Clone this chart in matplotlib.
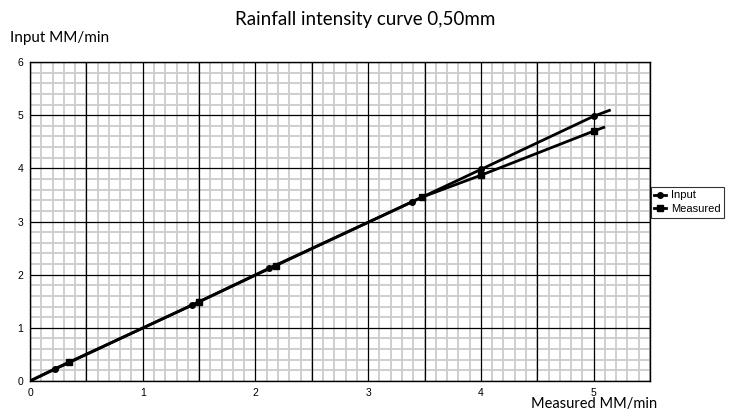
import matplotlib.pyplot as plt
from matplotlib.ticker import MultipleLocator

# data (first/last points are the ends of the drawn line)
input_x = [0.0, 0.22, 1.44, 2.12, 3.39, 4.0, 5.0, 5.14]
input_y = [0.0, 0.23, 1.43, 2.12, 3.37, 3.98, 4.98, 5.09]
measured_x = [0.0, 0.35, 1.50, 2.18, 3.48, 4.0, 5.0, 5.09]
measured_y = [0.0, 0.35, 1.49, 2.17, 3.46, 3.87, 4.70, 4.77]

fig = plt.figure(figsize=(7.38, 4.12), dpi=100)
ax = fig.add_axes([30 / 738, 1 - 381 / 412, 620 / 738, 319 / 412])

ax.plot(input_x, input_y, color='black', lw=2, marker='o', ms=4, zorder=3,
        markevery=list(range(1, len(input_x) - 1)), label='Input')
ax.plot(measured_x, measured_y, color='black', lw=2, marker='s', ms=5, zorder=3,
        markevery=list(range(1, len(measured_x) - 1)), label='Measured')

ax.set_xlim(0, 5.5)
ax.set_ylim(0, 6)
ax.xaxis.set_major_locator(MultipleLocator(0.5))
ax.xaxis.set_minor_locator(MultipleLocator(0.1))
ax.yaxis.set_major_locator(MultipleLocator(1))
ax.yaxis.set_minor_locator(MultipleLocator(0.2))
ax.grid(True, which='minor', color='#cccccc', lw=1.3)
ax.set_axisbelow(True)

# major grid drawn over the minor one
ax.vlines(ax.xaxis.get_majorticklocs(), 0, 6, color='black', lw=0.9, zorder=1)
ax.hlines(ax.yaxis.get_majorticklocs(), 0, 5.5, color='black', lw=0.9, zorder=1)

ax.set_xticks([0, 1, 2, 3, 4, 5])
ax.set_xticklabels(['0', '1', '2', '3', '4', '5'])
ax.set_xlim(0, 5.5)
ax.set_ylim(0, 6)
ax.tick_params(which='both', length=0, labelsize=7.5, pad=5)
for lab in ax.get_xticklabels() + ax.get_yticklabels():
    lab.set_family('Liberation Sans')
for s in ax.spines.values():
    s.set_color('black')
    s.set_linewidth(1)

fig.text(365 / 738, 1 - 20 / 412, 'Rainfall intensity curve 0,50mm',
         ha='center', va='center', fontsize=13.5, family='Lato')
fig.text(10 / 738, 1 - 38 / 412, 'Input MM/min', ha='left', va='center',
         fontsize=11, family='Lato')
fig.text(594 / 738, 1 - 404 / 412, 'Measured MM/min', ha='center', va='center',
         fontsize=10.5, family='Lato')

leg = ax.legend(loc='center left', bbox_to_anchor=(1.0, 0.56), frameon=True,
                fancybox=False, prop={'family': 'Liberation Sans', 'size': 8},
                handlelength=1.0, handletextpad=0.5, borderpad=0.3,
                labelspacing=0.35, borderaxespad=0.1)
leg.get_frame().set_edgecolor('black')
leg.get_frame().set_linewidth(0.8)

fig.savefig('out.png', dpi=100)
